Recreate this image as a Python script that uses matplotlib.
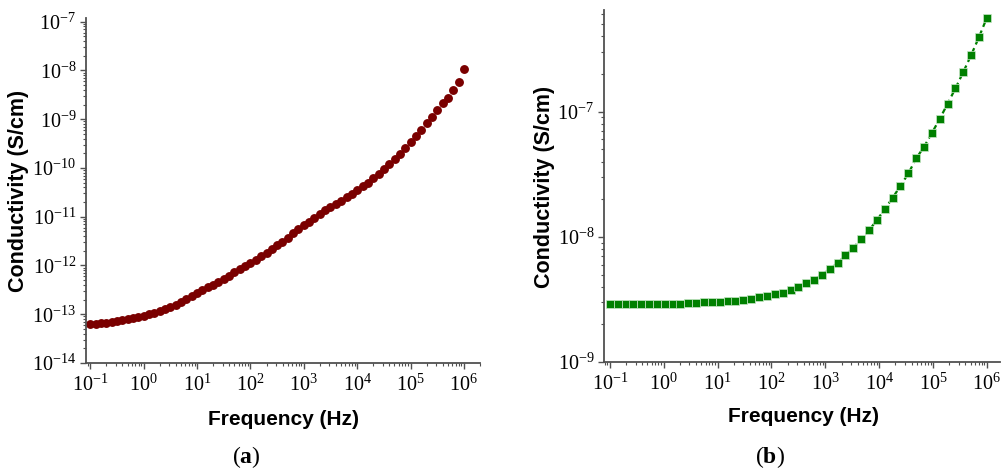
import matplotlib
matplotlib.use("Agg")
import matplotlib.pyplot as plt
from matplotlib.ticker import LogLocator, NullFormatter
import numpy as np

plt.rcParams['font.family'] = ['Liberation Serif', 'DejaVu Serif']
plt.rcParams['mathtext.fontset'] = 'custom'
plt.rcParams['mathtext.rm'] = 'Liberation Serif'
plt.rcParams['mathtext.bf'] = 'Liberation Serif:bold'

###################### Data ######################

# (a) frequency (Hz) and conductivity (S/cm)
freq_a = [0.1, 0.126, 0.158, 0.2, 0.251, 0.316, 0.398, 0.501, 0.631, 0.794,
          1.0, 1.26, 1.58, 2.0, 2.51, 3.16, 3.98, 5.01, 6.31, 7.94,
          10.0, 12.6, 15.8, 20.0, 25.1, 31.6, 39.8, 50.1, 63.1, 79.4,
          100, 126, 158, 200, 251, 316, 398, 501, 631, 794,
          1000, 1259, 1585, 1995, 2512, 3162, 3981, 5012, 6310, 7943,
          1.0e4, 1.26e4, 1.58e4, 2.0e4, 2.51e4, 3.16e4, 3.98e4, 5.01e4, 6.31e4, 7.94e4,
          1.0e5, 1.26e5, 1.58e5, 2.0e5, 2.51e5, 3.16e5, 3.98e5, 5.01e5, 6.31e5, 7.94e5,
          1.0e6]
sigma_a = [6.17e-14, 6.31e-14, 6.46e-14, 6.76e-14, 7.08e-14, 7.41e-14, 7.76e-14, 8.13e-14, 8.51e-14, 8.91e-14,
           9.33e-14, 1.00e-13, 1.07e-13, 1.15e-13, 1.26e-13, 1.41e-13, 1.58e-13, 1.82e-13, 2.04e-13, 2.34e-13,
           2.69e-13, 3.09e-13, 3.55e-13, 4.07e-13, 4.68e-13, 5.37e-13, 6.17e-13, 7.24e-13, 8.32e-13, 9.77e-13,
           1.12e-12, 1.32e-12, 1.55e-12, 1.82e-12, 2.14e-12, 2.57e-12, 3.09e-12, 3.72e-12, 4.57e-12, 5.50e-12,
           6.76e-12, 7.94e-12, 9.55e-12, 1.12e-11, 1.35e-11, 1.58e-11, 1.86e-11, 2.14e-11, 2.51e-11, 2.88e-11,
           3.47e-11, 4.17e-11, 5.01e-11, 6.17e-11, 7.59e-11, 9.55e-11, 1.20e-10, 1.55e-10, 1.95e-10, 2.51e-10,
           3.47e-10, 4.47e-10, 5.89e-10, 8.32e-10, 1.10e-9, 1.51e-9, 2.14e-9, 2.75e-9, 3.89e-9, 5.75e-9,
           1.07e-8]

# (b) frequency (Hz) and conductivity (S/cm)
freq_b = [0.1, 0.14, 0.196, 0.274, 0.383, 0.536, 0.75, 1.05, 1.47, 2.05,
          2.87, 4.02, 5.62, 7.87, 11.0, 15.4, 21.5, 30.1, 42.2, 59.0,
          82.5, 115, 162, 226, 316, 442, 619, 866, 1212, 1694,
          2371, 3318, 4642, 6494, 9085, 12710, 17780, 24880, 34810, 48700,
          68130, 95320, 133400, 186600, 261000, 365200, 510900, 714800, 1.0e6]
sigma_b = [2.93e-9, 2.93e-9, 2.91e-9, 2.91e-9, 2.91e-9, 2.91e-9, 2.91e-9, 2.91e-9, 2.91e-9, 2.91e-9,
           2.95e-9, 2.96e-9, 2.99e-9, 3.01e-9, 3.02e-9, 3.06e-9, 3.10e-9, 3.13e-9, 3.21e-9, 3.31e-9,
           3.37e-9, 3.48e-9, 3.59e-9, 3.75e-9, 3.94e-9, 4.24e-9, 4.56e-9, 4.97e-9, 5.52e-9, 6.17e-9,
           7.10e-9, 8.17e-9, 9.59e-9, 1.13e-8, 1.36e-8, 1.67e-8, 2.05e-8, 2.56e-8, 3.21e-8, 4.24e-8,
           5.25e-8, 6.76e-8, 8.79e-8, 1.16e-7, 1.54e-7, 2.08e-7, 2.84e-7, 3.96e-7, 5.65e-7]

# major tick positions
x_ticks = [1e-1, 1e0, 1e1, 1e2, 1e3, 1e4, 1e5, 1e6]
y_ticks_a = [1e-14, 1e-13, 1e-12, 1e-11, 1e-10, 1e-9, 1e-8, 1e-7]
y_ticks_b = [1e-9, 1e-8, 1e-7]

x_label = 'Frequency (Hz)'
y_label = 'Conductivity (S/cm)'
panel_labels = [r'$(\mathbf{a})$', r'$(\mathbf{b})$']

####################### Plotting #######################

W, H = 1001, 471
fig = plt.figure(figsize=(W / 100, H / 100), dpi=100)

# axes boxes from pixel positions in the reference
ax_a = fig.add_axes([86 / W, (H - 363) / H, 394 / W, 345 / H])
ax_b = fig.add_axes([604 / W, (H - 362) / H, 396 / W, 352 / H])

ax_a.plot(freq_a, sigma_a, 'o', color='#7a0000', markersize=6.4,
          markeredgewidth=0, clip_on=False)
ax_b.plot(freq_b, sigma_b, 's--', color='#008000', markersize=5.4,
          markeredgecolor='#c8e6c8', markeredgewidth=0.5, linewidth=1.6,
          dashes=(2.5, 1.8), clip_on=False)

spine_col = '#505050'
for ax, yt in ((ax_a, y_ticks_a), (ax_b, y_ticks_b)):
    ax.set_xscale('log')
    ax.set_yscale('log')
    for s in ('top', 'right'):
        ax.spines[s].set_visible(False)
    for s in ('left', 'bottom'):
        ax.spines[s].set_color(spine_col)
        ax.spines[s].set_linewidth(1.3)
    ax.set_xticks(x_ticks)
    ax.set_yticks(yt)
    for axis in (ax.xaxis, ax.yaxis):
        axis.set_minor_locator(LogLocator(base=10, subs=np.arange(2, 10), numticks=30))
        axis.set_minor_formatter(NullFormatter())
    ax.tick_params(which='major', direction='out', length=4.5, width=1.0,
                   color=spine_col, labelsize=14.5, pad=2.5)
    ax.tick_params(which='minor', direction='out', length=2.5, width=0.8,
                   color=spine_col)
    ax.tick_params(axis='x', which='major', pad=4)
    ax.set_xlabel(x_label, fontsize=15, fontweight='bold', family='Liberation Sans')
    ax.set_ylabel(y_label, fontsize=15.5, fontweight='bold', family='Liberation Sans')
    ax.xaxis.label.set_va('center')
    ax.yaxis.label.set_va('center')

ax_a.set_xlim(0.083, 2.0e6)
ax_a.set_ylim(1e-14, 1.19e-7)
ax_b.set_xlim(0.078, 1.75e6)
ax_b.set_ylim(1e-9, 6.5e-7)

ax_a.xaxis.set_label_coords(0.5, -0.165)
ax_a.yaxis.set_label_coords(-0.172, 0.5)
ax_b.xaxis.set_label_coords(0.505, -0.156)
ax_b.yaxis.set_label_coords(-0.149, 0.496)

fig.text(246 / W, (H - 457) / H, panel_labels[0], fontsize=17, ha='center', va='center')
fig.text(770 / W, (H - 457) / H, panel_labels[1], fontsize=17, ha='center', va='center')

fig.savefig('out.png', dpi=100)
